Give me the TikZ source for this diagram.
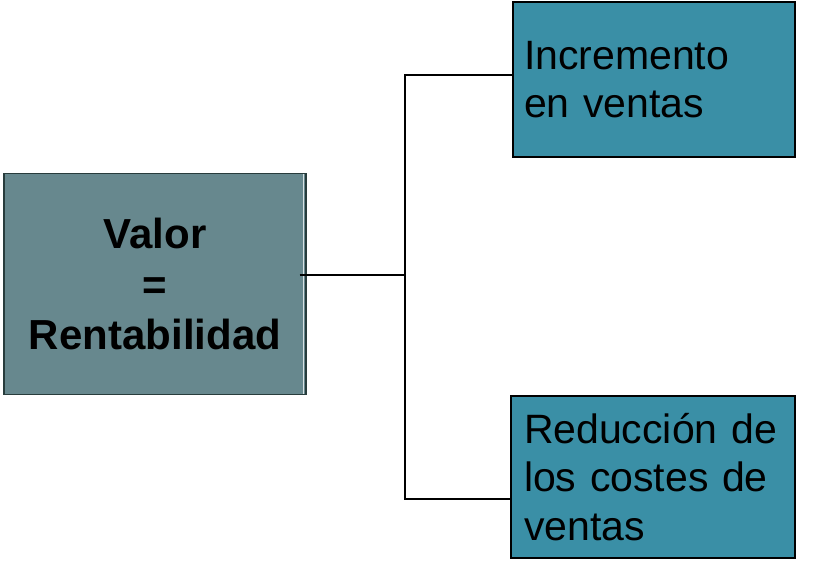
\documentclass[tikz,border=0pt]{standalone}
\usepackage{fontspec}
\setmainfont{Liberation Sans}
\definecolor{mainfill}{RGB}{103,136,142}
\definecolor{mainline}{RGB}{40,60,60}
\definecolor{boxfill}{RGB}{58,143,166}
\begin{document}
\begin{tikzpicture}[x=1pt,y=-1pt,
  mainbox/.style={draw=mainline,line width=1.2pt,fill=mainfill,minimum width=302pt,minimum height=221pt,
    inner sep=0pt,align=center,font=\fontsize{42}{50.5}\selectfont\bfseries},
  leafbox/.style={draw=black,line width=1.6pt,fill=boxfill,inner sep=0pt,align=left,
    font=\fontsize{41}{48.5}\selectfont},
  conn/.style={draw=black,line width=1.4pt}]
\useasboundingbox (0,0) rectangle (814,562);
\node[mainbox] (main) at (155,284) {Valor\\=\\Rentabilidad};
\draw[white!75!mainfill,line width=1pt] ([xshift=-3pt,yshift=-1pt]main.north east) -- ([xshift=-3pt,yshift=1pt]main.south east);
\node[leafbox,minimum width=282pt,minimum height=155pt,text width=260pt] (top) at (654,79.5) {Incremento\\en ventas};
\node[leafbox,minimum width=284pt,minimum height=162pt,text width=258pt] (bot) at (653,477) {Reducción de\\los costes de\\ventas};
\coordinate (j) at (405,275);
\coordinate (t) at (405,75);
\coordinate (b) at (405,499);
\draw[conn] ([xshift=-7pt]main.east |- j) -- (j);
\draw[conn] (top.west |- t) -- (t) -- (b) -- (bot.west |- b);
\end{tikzpicture}
\end{document}
